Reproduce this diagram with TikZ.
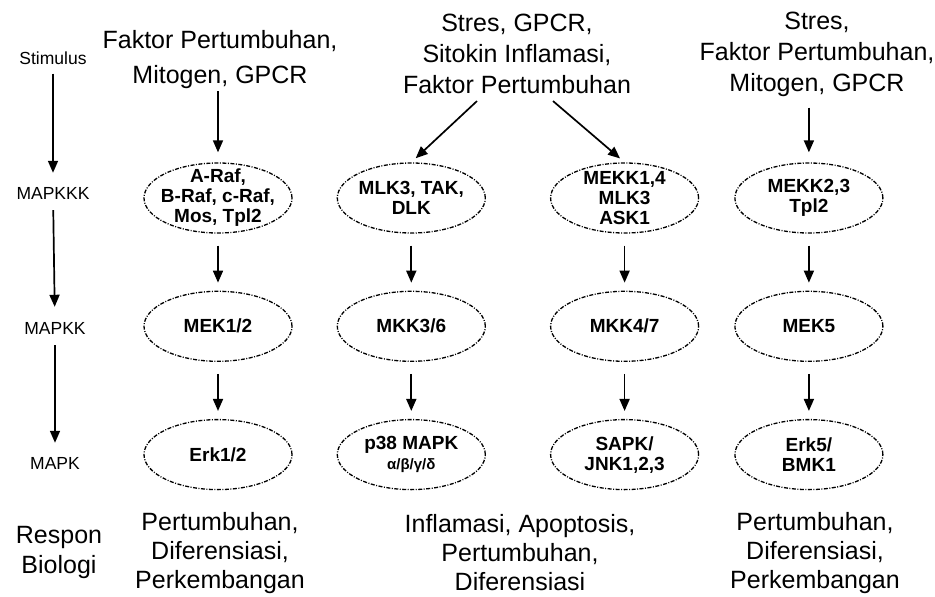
\documentclass[tikz,border=0pt]{standalone}
\usepackage{fontspec}
\setmainfont{Liberation Sans}
\usetikzlibrary{arrows.meta,positioning,shapes.geometric}
\tikzset{
  kinase/.style={
    ellipse, draw, line width=1.3pt, dash pattern=on 4pt off 1.5pt on 1pt off 1.5pt,
    minimum width=148pt, minimum height=70pt, inner xsep=-7pt, inner ysep=-6pt,
    align=center, font=\fontsize{19}{20}\selectfont\bfseries
  },
  stimtext/.style={inner sep=0pt, align=center, font=\fontsize{25}{31}\selectfont},
  resptext/.style={inner sep=0pt, align=center, font=\fontsize{25}{29}\selectfont},
  level/.style={inner sep=0pt, font=\fontsize{17.5}{19}\selectfont},
  flow/.style={-{Triangle[length=12pt,width=10pt]}, line width=1.7pt}
}
\begin{document}
\begin{tikzpicture}[x=1pt,y=-1pt,node distance=57pt and 44pt]
  \useasboundingbox (0,0) rectangle (935,597);
  % tingkat kaskade
  \node[level] (lstim) at (53,58) {Stimulus};
  \node[level] (lkkk) at (53,193) {MAPKKK};
  \node[level] (lkk) at (55,328) {MAPKK};
  \node[level] (lk) at (55,463) {MAPK};
  \node[resptext,font=\fontsize{25}{30}\selectfont] (lresp) at (59,552) {Respon\\Biologi};
  \draw[flow,shorten <=9pt,shorten >=14pt] (lstim) -- (lkkk);
  \draw[flow,shorten <=11pt,shorten >=15pt] (lkkk) -- (lkk);
  \draw[flow,shorten <=11pt,shorten >=14pt] (lkk) -- (lk);

  % stimulus
  \node[stimtext,font=\fontsize{25}{35}\selectfont] (stima) at (220,60) {Faktor Pertumbuhan,\\Mitogen, GPCR};
  \node[stimtext] (stimb) at (517,54) {Stres, GPCR,\\Sitokin Inflamasi,\\Faktor Pertumbuhan};
  \node[stimtext] (stimc) at (817,54) {Stres,\\Faktor Pertumbuhan,\\Mitogen, GPCR};

  % kinase
  \node[kinase] (raf) at (218,198) {A-Raf,\\B-Raf, c-Raf,\\Mos, Tpl2};
  \node[kinase,right=of raf] (mlk) {MLK3, TAK,\\DLK};
  \node[kinase,right=64pt of mlk] (mekka) {MEKK1,4\\MLK3\\ASK1};
  \node[kinase,right=35pt of mekka] (mekkb) {MEKK2,3\\Tpl2};
  \node[kinase,below=of raf] (mek) {MEK1/2};
  \node[kinase,below=of mlk] (mkka) {MKK3/6};
  \node[kinase,below=of mekka] (mkkb) {MKK4/7};
  \node[kinase,below=of mekkb] (mekv) {MEK5};
  \node[kinase,below=of mek] (erk) {Erk1/2};
  \node[kinase,below=of mkka] (ptt) {p38 MAPK\\{\fontsize{15}{16}\selectfont α/β/γ/δ}};
  \node[kinase,below=of mkkb] (jnk) {SAPK/\\JNK1,2,3};
  \node[kinase,below=of mekv] (erkv) {Erk5/\\BMK1};

  \draw[flow,shorten <=2pt,shorten >=10pt] (stima.south -| raf) -- (raf);
  \draw[flow,shorten >=6pt] ([xshift=-40pt,yshift=-7pt]stimb.south) -- (mlk.north);
  \draw[flow,shorten >=6pt] ([xshift=36pt,yshift=-7pt]stimb.south) -- (mekka.north);
  \draw[flow,shorten <=11pt,shorten >=10pt] (stimc.south -| mekkb) -- (mekkb);
  \foreach \a/\b in {raf/mek,mek/erk,mlk/mkka,mkka/ptt,mekka/mkkb,mkkb/jnk,mekkb/mekv,mekv/erkv}
    \draw[flow,shorten <=12pt,shorten >=8pt] (\a) -- (\b);

  % respon
  \node[resptext] (respa) at (220,553) {Pertumbuhan,\\Diferensiasi,\\Perkembangan};
  \node[resptext] (respb) at (520,553) {Inflamasi, Apoptosis,\\Pertumbuhan,\\Diferensiasi};
  \node[resptext] (respc) at (815,553) {Pertumbuhan,\\Diferensiasi,\\Perkembangan};
\end{tikzpicture}
\end{document}
